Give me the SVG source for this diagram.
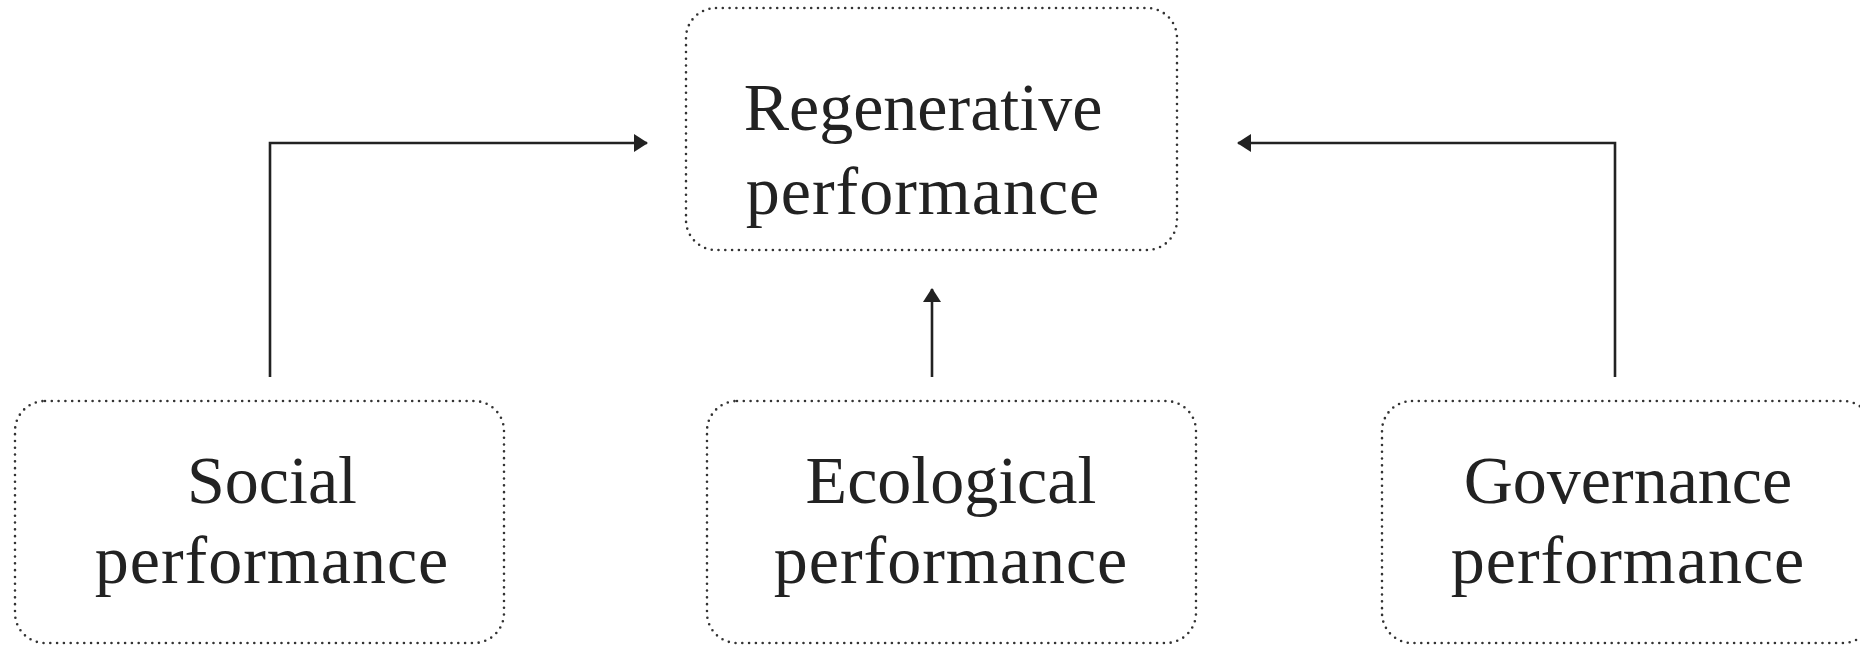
<svg xmlns="http://www.w3.org/2000/svg" width="1860" height="645" viewBox="0 0 1860 645">
<style>
.box{fill:#fff;stroke:#333;stroke-width:2.6;stroke-dasharray:0 6.8;stroke-linecap:round}
.lbl{font-family:"Liberation Serif",serif;font-size:68px;fill:#222;text-anchor:middle}
.perf{letter-spacing:1px}
.conn{fill:none;stroke:#222;stroke-width:2.6}
</style>
<defs>
<marker id="arr" markerUnits="userSpaceOnUse" markerWidth="14" markerHeight="18" refX="13" refY="9" orient="auto">
<path d="M0,0 L14,9 L0,18 Z" fill="#222"/>
</marker>
</defs>
<rect width="1860" height="645" fill="#fff"/>
<g id="connectors">
<path class="conn" d="M270,377 V143 H647" marker-end="url(#arr)"/>
<path class="conn" d="M932,377 V289" marker-end="url(#arr)"/>
<path class="conn" d="M1615,377 V143 H1238" marker-end="url(#arr)"/>
</g>
<g id="regenerative">
<rect class="box" x="686" y="8" width="491" height="242" rx="30"/>
<text class="lbl" x="923" y="130">Regenerative</text>
<text class="lbl perf" x="923" y="214">performance</text>
</g>
<g id="social">
<rect class="box" x="15" y="401" width="489" height="242" rx="30"/>
<text class="lbl" x="272" y="503">Social</text>
<text class="lbl perf" x="272" y="583">performance</text>
</g>
<g id="ecological">
<rect class="box" x="707" y="401" width="489" height="242" rx="30"/>
<text class="lbl" x="951" y="503">Ecological</text>
<text class="lbl perf" x="951" y="583">performance</text>
</g>
<g id="governance">
<rect class="box" x="1382" y="401" width="491" height="242" rx="30"/>
<text class="lbl" x="1628" y="503">Governance</text>
<text class="lbl perf" x="1628" y="583">performance</text>
</g>
</svg>
